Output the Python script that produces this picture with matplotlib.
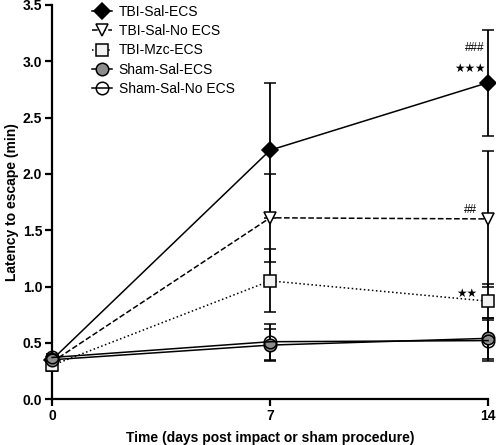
import matplotlib
matplotlib.use("Agg")
import matplotlib.pyplot as plt
from matplotlib.lines import Line2D

plt.rcParams['font.family'] = ['Liberation Sans', 'DejaVu Sans']

days = [0, 7, 14]
day_ticks = [0, 7, 14]
y_ticks = [0.0, 0.5, 1.0, 1.5, 2.0, 2.5, 3.0, 3.5]

labels = ['TBI-Sal-ECS', 'TBI-Sal-No ECS', 'TBI-Mzc-ECS', 'Sham-Sal-ECS', 'Sham-Sal-No ECS']
tbi_sal_ecs = [0.35, 2.21, 2.81]
tbi_sal_ecs_err = [0.03, 0.60, 0.47]
tbi_sal_noecs = [0.33, 1.61, 1.60]
tbi_sal_noecs_err = [0.03, 0.39, 0.60]
tbi_mzc_ecs = [0.30, 1.05, 0.87]
tbi_mzc_ecs_err = [0.05, 0.28, 0.15]
sham_sal_ecs = [0.35, 0.48, 0.54]
sham_sal_ecs_err = [0.03, 0.14, 0.18]
sham_sal_noecs = [0.37, 0.51, 0.52]
sham_sal_noecs_err = [0.03, 0.16, 0.18]

# significance marks: (text, x, y)
marks = [('###', 13.58, 3.12), ('★★★', 13.42, 2.94), ('##', 13.45, 1.68), ('★★', 13.33, 0.94)]

fig = plt.figure(figsize=(4.96, 4.45), dpi=100)
ax = fig.add_axes([0.105, 0.103, 0.879, 0.886])

series = [
    (tbi_sal_ecs, tbi_sal_ecs_err, dict(ls='-', marker='D', mfc='black', ms=8)),
    (tbi_sal_noecs, tbi_sal_noecs_err, dict(ls='--', marker='v', mfc='white', ms=9)),
    (tbi_mzc_ecs, tbi_mzc_ecs_err, dict(ls=':', marker='s', mfc='#f2f2f2', ms=9)),
    (sham_sal_ecs, sham_sal_ecs_err, dict(ls='-', marker='o', mfc='#8c8c8c', ms=9)),
    (sham_sal_noecs, sham_sal_noecs_err, dict(ls='-', marker='o', mfc='none', ms=9)),
]
handles = []
for (vals, err, st), lab in zip(series, labels):
    ax.errorbar(days, vals, yerr=err, color='black', lw=1.1, elinewidth=1.3,
                capsize=4, capthick=1.3, mec='black', mew=1.1,
                clip_on=False, zorder=3, **st)
    handles.append(Line2D([], [], color='black', lw=1.1, mec='black', mew=1.1,
                          label=lab, **st))

for txt, x, y in marks:
    ax.text(x, y, txt, ha='center', va='center', fontsize=8.5,
            family=['DejaVu Sans'] if '★' in txt else None)

ax.set_xlim(0, 14)
ax.set_ylim(0, 3.5)
ax.set_xticks(day_ticks)
ax.set_yticks(y_ticks)
ax.set_yticklabels([f'{v:.1f}' for v in y_ticks])
for s in ['top', 'right']:
    ax.spines[s].set_visible(False)
for s in ['left', 'bottom']:
    ax.spines[s].set_linewidth(1.6)
ax.tick_params(width=1.6, length=5, labelsize=10, pad=2)
for t in ax.get_xticklabels() + ax.get_yticklabels():
    t.set_fontweight('bold')

ax.set_xlabel('Time (days post impact or sham procedure)', fontsize=10, fontweight='bold', labelpad=6)
ax.set_ylabel('Latency to escape (min)', fontsize=10, fontweight='bold', labelpad=3)

ax.legend(handles=handles, loc='upper left', bbox_to_anchor=(0.092, 1.0), frameon=False,
          fontsize=10, handlelength=1.45, handletextpad=0.45, labelspacing=0.38,
          borderpad=0, borderaxespad=0)

fig.savefig('out.png', dpi=100)
